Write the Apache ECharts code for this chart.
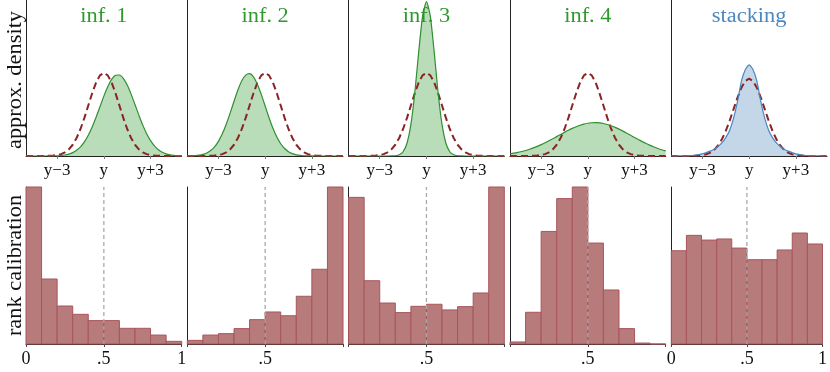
<!DOCTYPE html>
<html><head><meta charset="utf-8">
<script src="https://cdn.jsdelivr.net/npm/echarts@6/dist/echarts.min.js"></script>
<style>html,body{margin:0;padding:0;background:#fff}#c{width:830px;height:372px}</style>
</head><body><div id="c"></div>
<script>
// ---- data ----
const xs = [-5,-4.75,-4.5,-4.25,-4,-3.75,-3.5,-3.25,-3,-2.75,-2.5,-2.25,-2,-1.75,-1.5,-1.25,-1,-0.75,-0.5,-0.25,0,0.25,0.5,0.75,1,1.25,1.5,1.75,2,2.25,2.5,2.75,3,3.25,3.5,3.75,4,4.25,4.5,4.75,5];
const refDensity = [0,0,0,0,0.0001,0.0004,0.0009,0.002,0.0044,0.0091,0.0175,0.0317,0.054,0.0863,0.1295,0.1826,0.242,0.3011,0.3521,0.3867,0.3989,0.3867,0.3521,0.3011,0.242,0.1826,0.1295,0.0863,0.054,0.0317,0.0175,0.0091,0.0044,0.002,0.0009,0.0004,0.0001,0,0,0,0];
const inf1 = [0,0,0,0,0,0.0001,0.0003,0.0006,0.0012,0.0025,0.0049,0.0092,0.0162,0.0274,0.0442,0.0679,0.0996,0.1394,0.1859,0.2365,0.2871,0.3324,0.3671,0.3867,0.3885,0.3723,0.3404,0.2968,0.2468,0.1958,0.1481,0.1069,0.0736,0.0484,0.0303,0.0181,0.0103,0.0056,0.0029,0.0014,0.0007];
const inf2 = [0.0003,0.0008,0.0018,0.0038,0.0076,0.0145,0.026,0.044,0.0704,0.1065,0.1522,0.2056,0.2623,0.3163,0.3604,0.3879,0.3946,0.3792,0.3444,0.2955,0.2396,0.1836,0.1329,0.0909,0.0587,0.0359,0.0207,0.0113,0.0058,0.0028,0.0013,0.0006,0.0002,0.0001,0,0,0,0,0,0,0];
const inf3 = [0,0,0,0,0,0,0,0,0,0,0,0.0002,0.0013,0.0056,0.0205,0.0613,0.1502,0.3018,0.4968,0.6698,0.74,0.6698,0.4968,0.3018,0.1502,0.0613,0.0205,0.0056,0.0013,0.0002,0,0,0,0,0,0,0,0,0,0,0];
const inf4 = [0.0109,0.0138,0.0174,0.0217,0.0266,0.0324,0.039,0.0463,0.0545,0.0633,0.0728,0.0827,0.0929,0.1032,0.1134,0.1232,0.1323,0.1404,0.1474,0.1531,0.1571,0.1594,0.16,0.1587,0.1557,0.151,0.1448,0.1373,0.1287,0.1193,0.1094,0.0991,0.0888,0.0787,0.0689,0.0597,0.0511,0.0433,0.0362,0.03,0.0246];
const stacking = [0,0.0001,0.0002,0.0005,0.001,0.002,0.004,0.007,0.011,0.018,0.025,0.035,0.049,0.068,0.095,0.133,0.195,0.28,0.385,0.445,0.47,0.445,0.385,0.28,0.195,0.133,0.095,0.068,0.049,0.035,0.025,0.018,0.011,0.007,0.004,0.002,0.001,0.0005,0.0002,0.0001,0];
const panelTitles = ['inf. 1','inf. 2','inf. 3','inf. 4','stacking'];
const topTickValues = [-3, 0, 3];
const topTickLabels = ['y\u22123', 'y', 'y+3'];
const binEdges = [0,0.1,0.2,0.3,0.4,0.5,0.6,0.7,0.8,0.9,1];
const rank1 = [100,41.4,24.2,18.9,14.9,14.9,10.0,10.0,5.7,1.7];
const rank2 = [2.3,5.7,6.6,9.8,15.5,20.4,18.0,30.4,47.6,100];
const rank3 = [93.4,40.3,26.1,20.0,24.0,25.3,21.7,23.8,32.5,100];
const rank4 = [1.3,20.2,71.7,92.6,100,64.3,34.4,9.8,0.6,0];
const rank5 = [59.4,69.2,66.2,66.9,61.1,53.7,53.7,59.9,70.7,63.7];
const bottomTickValues = [0, 0.5, 1];
const bottomTickLabels = ['0', '.5', '1'];
const medianRank = 0.5;

// ---- layout / style ----
const FONT = '"Liberation Serif", "Times New Roman", serif';
const lefts = [26, 187.3, 348.6, 510, 671.3];
const W = 155.7;
const densities = [inf1, inf2, inf3, inf4, stacking];
const ranks = [rank1, rank2, rank3, rank4, rank5];
const topMax = [0.748, 0.748, 0.748, 0.748, 0.805];
const lineCol = ['#2f8f2f','#2f8f2f','#2f8f2f','#2f8f2f','#4a86c0'];
const fillCol = ['rgba(44,148,44,0.47)','rgba(44,148,44,0.47)','rgba(44,148,44,0.47)','rgba(44,148,44,0.47)','rgba(70,130,185,0.45)'];
const titleCol = ['#2e9a2e','#2e9a2e','#2e9a2e','#2e9a2e','#4d88c0'];
const bottomLabelVals = [[0,0.5,1],[0.5],[0.5],[0.5],[0,0.5,1]];

const axisLine = {show: true, onZero: false, lineStyle: {color: '#222', width: 1}};
const grid = [], xAxis = [], yAxis = [], series = [], graphic = [];

for (let i = 0; i < 5; i++) {
  const t = 2 * i, b = 2 * i + 1;
  grid.push({left: lefts[i], top: 0, width: W, height: 156});
  grid.push({left: lefts[i], top: 187, width: W, height: 157});

  xAxis.push({
    type: 'value', gridIndex: t, min: -5, max: 5,
    axisLine: axisLine,
    axisTick: {show: true, customValues: topTickValues, length: 3, lineStyle: {color: '#777'}},
    axisLabel: {show: true, customValues: topTickValues, margin: 6,
      formatter: v => topTickLabels[topTickValues.indexOf(v)],
      fontFamily: FONT, fontSize: 17, color: '#111'},
    splitLine: {show: false}
  });
  yAxis.push({type: 'value', gridIndex: t, min: 0, max: topMax[i],
    axisLine: axisLine, axisTick: {show: false}, axisLabel: {show: false}, splitLine: {show: false}});

  xAxis.push({
    type: 'value', gridIndex: b, min: 0, max: 1,
    axisLine: axisLine,
    axisTick: {show: true, customValues: bottomTickValues, length: 3, lineStyle: {color: '#444'}},
    axisLabel: {show: true, customValues: bottomLabelVals[i], margin: 6,
      formatter: v => bottomTickLabels[bottomTickValues.indexOf(v)],
      fontFamily: FONT, fontSize: 18, color: '#111'},
    splitLine: {show: false}
  });
  yAxis.push({type: 'value', gridIndex: b, min: 0, max: 100,
    axisLine: axisLine, axisTick: {show: false}, axisLabel: {show: false}, splitLine: {show: false}});

  series.push({
    type: 'line', xAxisIndex: t, yAxisIndex: t, symbol: 'none', silent: true,
    data: xs.map((x, k) => [x, refDensity[k]]),
    lineStyle: {color: '#8b2424', width: 2, type: [7, 4]}
  });
  series.push({
    type: 'line', xAxisIndex: t, yAxisIndex: t, symbol: 'none', silent: true, smooth: 0.2,
    data: xs.map((x, k) => [x, densities[i][k]]),
    lineStyle: {color: lineCol[i], width: 1.2},
    areaStyle: {color: fillCol[i]}
  });

  series.push({
    type: 'custom', xAxisIndex: b, yAxisIndex: b, silent: true,
    data: ranks[i].map((h, k) => [binEdges[k], binEdges[k + 1], h]),
    encode: {x: [0, 1], y: 2},
    renderItem: (params, api) => {
      const p0 = api.coord([api.value(0), 0]);
      const p1 = api.coord([api.value(1), api.value(2)]);
      return {type: 'rect',
        shape: {x: p0[0], y: p1[1], width: p1[0] - p0[0], height: p0[1] - p1[1]},
        style: {fill: '#b87b7c', stroke: '#a8555b', lineWidth: 1}};
    }
  });
  series.push({
    type: 'line', xAxisIndex: b, yAxisIndex: b, symbol: 'none', silent: true, z: 5,
    data: [[medianRank, 0], [medianRank, 100]],
    lineStyle: {color: '#a9a9a9', width: 1.3, type: [4, 3]}
  });

  graphic.push({
    type: 'text', x: lefts[i] + W / 2, y: 16.5, scaleX: 1.12,
    style: {text: panelTitles[i], font: '20px ' + FONT, fill: titleCol[i],
      textAlign: 'center', textVerticalAlign: 'middle', align: 'center', verticalAlign: 'middle'}
  });
}
graphic.push({
  type: 'text', x: 15.5, y: 80, rotation: Math.PI / 2, scaleX: 1.12,
  style: {text: 'approx. density', font: '20px ' + FONT, fill: '#111',
    textAlign: 'center', textVerticalAlign: 'middle', align: 'center', verticalAlign: 'middle'}
});
graphic.push({
  type: 'text', x: 15.5, y: 265.5, rotation: Math.PI / 2, scaleX: 1.12,
  style: {text: 'rank calibration', font: '20px ' + FONT, fill: '#111',
    textAlign: 'center', textVerticalAlign: 'middle', align: 'center', verticalAlign: 'middle'}
});

const chart = echarts.init(document.getElementById('c'), null, {renderer: 'canvas'});
chart.setOption({animation: false, backgroundColor: '#fff', graphic, grid, xAxis, yAxis, series});
</script></body></html>
